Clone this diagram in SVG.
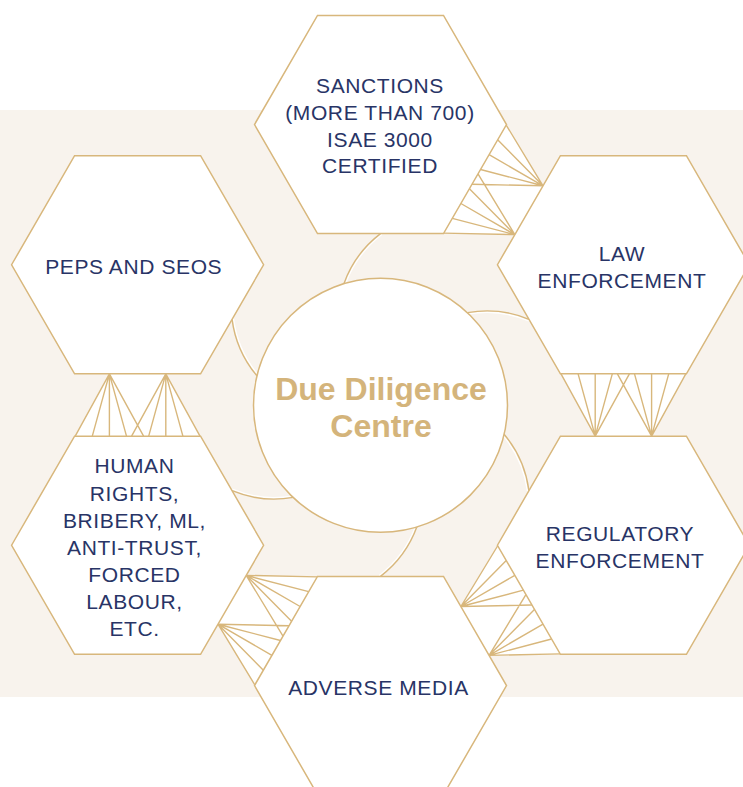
<svg xmlns="http://www.w3.org/2000/svg" xmlns:xlink="http://www.w3.org/1999/xlink" width="743" height="787" viewBox="0 0 743 787">
<style>
.hex{fill:#ffffff;stroke:#d8b77c;stroke-width:1.5}
.fanfill{fill:#ffffff;stroke:none}
.fan{stroke:#d8b77c;stroke-width:1.4;fill:none}
.arc{stroke:#d8b77c;stroke-width:1.4;fill:none}
.arcw{stroke:#ffffff;stroke-width:1.3;fill:none}
.lbl{font-family:"Liberation Sans",Arial,sans-serif;font-size:21px;fill:#283466;text-anchor:middle;letter-spacing:0.6px}
.title{font-family:"Liberation Sans",Arial,sans-serif;font-size:32px;font-weight:bold;fill:#d4b47b;text-anchor:middle}
</style>
<defs>
<polygon id="hexshape" points="-126,0 -63,-109.12 63,-109.12 126,0 63,109.12 -63,109.12"/>
<g id="fanpair">
<polygon class="fanfill" points="595.2,436.13 651.6,436.13 685.8,373.87 561,373.87"/>
<path class="fan" d="M595.2,436.13L561,373.87M595.2,436.13L578.1,373.87M595.2,436.13L595.2,373.87M595.2,436.13L612.3,373.87M595.2,436.13L629.4,373.87M651.6,436.13L617.4,373.87M651.6,436.13L634.5,373.87M651.6,436.13L651.6,373.87M651.6,436.13L668.7,373.87M651.6,436.13L685.8,373.87"/>
</g>
<g id="arcpair">
<path class="arcw" d="M501.2,369.8 A110,110 0 0 1 551,406.3"/>
<path class="arc" d="M502.1,368.5 A110,110 0 0 1 551.9,405"/>
</g>
</defs>
<rect x="0" y="110" width="743" height="587" fill="#f8f3ed"/>
<g id="connectors">
<use xlink:href="#fanpair"/>
<use xlink:href="#fanpair" transform="rotate(-60 380.5 405)"/>
<use xlink:href="#fanpair" transform="rotate(60 380.5 405)"/>
<use xlink:href="#fanpair" transform="rotate(120 380.5 405)"/>
<use xlink:href="#fanpair" transform="rotate(180 380.5 405)"/>
<use xlink:href="#arcpair" transform="rotate(-90 380.5 405)"/>
<use xlink:href="#arcpair" transform="rotate(-30 380.5 405)"/>
<use xlink:href="#arcpair" transform="rotate(30 380.5 405)"/>
<use xlink:href="#arcpair" transform="rotate(90 380.5 405)"/>
<use xlink:href="#arcpair" transform="rotate(150 380.5 405)"/>
<use xlink:href="#arcpair" transform="rotate(210 380.5 405)"/>
</g>
<g id="sanctions">
<use xlink:href="#hexshape" class="hex" x="380.5" y="124.5"/>
<text class="lbl" x="380" y="92.7">SANCTIONS</text>
<text class="lbl" x="380" y="119.6">(MORE THAN 700)</text>
<text class="lbl" x="380" y="146.5">ISAE 3000</text>
<text class="lbl" x="380" y="173.4">CERTIFIED</text>
</g>
<g id="law-enforcement">
<use xlink:href="#hexshape" class="hex" x="623.42" y="264.75"/>
<text class="lbl" x="622" y="260.7">LAW</text>
<text class="lbl" x="622" y="287.7">ENFORCEMENT</text>
</g>
<g id="regulatory-enforcement">
<use xlink:href="#hexshape" class="hex" x="623.42" y="545.25"/>
<text class="lbl" x="620" y="540.7">REGULATORY</text>
<text class="lbl" x="620" y="567.7">ENFORCEMENT</text>
</g>
<g id="adverse-media">
<use xlink:href="#hexshape" class="hex" x="380.5" y="685.5"/>
<text class="lbl" x="378.5" y="695">ADVERSE MEDIA</text>
</g>
<g id="human-rights">
<use xlink:href="#hexshape" class="hex" x="137.58" y="545.25"/>
<text class="lbl" x="134.5" y="473.3">HUMAN</text>
<text class="lbl" x="134.5" y="500.5">RIGHTS,</text>
<text class="lbl" x="134.5" y="527.6">BRIBERY, ML,</text>
<text class="lbl" x="134.5" y="554.8">ANTI-TRUST,</text>
<text class="lbl" x="134.5" y="582">FORCED</text>
<text class="lbl" x="134.5" y="609.2">LABOUR,</text>
<text class="lbl" x="134.5" y="636.3">ETC.</text>
</g>
<g id="peps-and-seos">
<use xlink:href="#hexshape" class="hex" x="137.58" y="264.75"/>
<text class="lbl" x="133.7" y="274">PEPS AND SEOS</text>
</g>
<g id="due-diligence-centre">
<circle cx="380.5" cy="405.3" r="127" fill="#ffffff" stroke="#d8b77c" stroke-width="1.5"/>
<text class="title" x="381" y="400">Due Diligence</text>
<text class="title" x="381" y="436.7">Centre</text>
</g>
</svg>
